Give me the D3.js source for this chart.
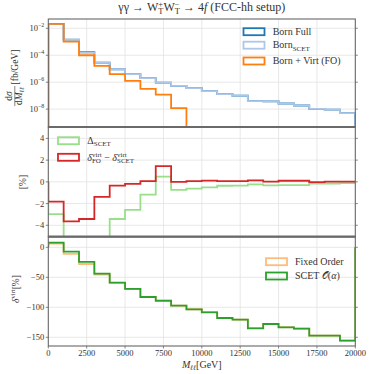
<!DOCTYPE html>
<html>
<head>
<meta charset="utf-8">
<script src="https://cdn.jsdelivr.net/npm/d3@7"></script>
<style>
  body { margin: 0; background: #fff; }
  svg { display: block; }
  text { font-family: "Liberation Serif", "DejaVu Serif", serif; fill: #333; white-space: pre; }
</style>
</head>
<body>
<svg></svg>
<script>
'use strict';

// bin edges [GeV]
var binEdges = [0, 1000, 2000, 3000, 4000, 5000, 6000, 7000, 8000, 9000, 10000,
  11000, 12000, 13000, 14000, 15000, 16000, 17000, 18000, 19000, 20000];
var xTickValues = [0, 2500, 5000, 7500, 10000, 12500, 15000, 17500, 20000];

// top panel: dsigma/dM [fb/GeV]
var bornFull = [2.1e-2, 1.45e-3, 1.66e-4, 2.8e-5, 9.1e-6, 3.9e-6, 2.0e-6, 9.3e-7, 5.4e-7, 3.6e-7,
  2.2e-7, 1.29e-7, 9.8e-8, 3.9e-8, 3.8e-8, 2.6e-8, 1.86e-8, 1.05e-8, 9.3e-9, 5.0e-9];
var bornScet = [2.1e-2, 1.38e-3, 1.58e-4, 2.8e-5, 9.1e-6, 3.9e-6, 2.0e-6, 9.3e-7, 5.4e-7, 3.6e-7,
  2.2e-7, 1.29e-7, 9.8e-8, 3.9e-8, 3.8e-8, 2.6e-8, 1.86e-8, 1.05e-8, 9.3e-9, 5.0e-9];
var bornVirtFO = [2.1e-2, 1.02e-3, 1.0e-4, 1.62e-5, 3.9e-6, 1.26e-6, 3.2e-7, 1.2e-7, 1.17e-8];

// middle panel [%]
var deltaScet = [-2.98, -8.1, -9.7, -6.2, -3.42, -2.58, -1.17, 0.49, -0.74, -0.62,
  -0.5, -0.36, -0.34, -0.24, -0.33, -0.3, -0.3, -0.15, -0.15, -0.12];
var deltaDiff = [-1.82, -3.63, -3.42, -1.38, -0.34, -0.18, 0.06, 1.45, 0.0, 0.06,
  0.12, 0.06, 0.06, 0.14, 0.02, 0.1, 0.1, -0.02, 0.02, 0.02];

// bottom panel: delta virt [%]
var virtFixedOrder = [6.0, -10.8, -27.8, -45.3, -59.2, -69.6, -82.7, -88.0, -97.2, -103.2,
  -108.1, -117.7, -120.5, -134.8, -127.8, -133.2, -135.5, -147.2, -147.2, -155.6];
var virtScet = [7.8, -7.2, -24.4, -43.9, -58.9, -69.4, -82.8, -89.4, -97.2, -103.3,
  -108.3, -117.8, -120.6, -135.0, -127.8, -133.3, -135.6, -147.2, -147.2, -155.6];

var topTicks = [1e-2, 1e-4, 1e-6, 1e-8];
var topTickExp = ['\u22122', '\u22124', '\u22126', '\u22128'];
var midTicks = [-4, -2, 0, 2, 4];
var botTicks = [-150, -100, -50, 0];

// layout
var W = 374, H = 374;
var left = 48.3, right = 355.3;
var panels = [
  { top: 19, bottom: 127 },
  { top: 127, bottom: 236.7 },
  { top: 236.7, bottom: 346 }
];
var lw = 1.8;

var svg = d3.select('svg').attr('width', W).attr('height', H);

var xScale = d3.scaleLinear().domain([0, 20000]).range([left, right]);
var yTop = d3.scaleLog().domain([4.7e-10, 4.9e-2]).range([panels[0].bottom, panels[0].top]).clamp(true);
var yMid = d3.scaleLinear().domain([-5.05, 5.05]).range([panels[1].bottom, panels[1].top]);
var yBot = d3.scaleLinear().domain([-164.5, 17.7]).range([panels[2].bottom, panels[2].top]);

// rich text: parts placed one after another, stacked scripts share a start
function rich(parent, parts, size) {
  var t = parent.append('text').style('font-size', size + 'px');
  var cx = 0, prevStart = 0;
  parts.forEach(function(p) {
    var fs = p.small ? size * 0.7 : size;
    var sx = p.stack ? prevStart : cx;
    var sp = t.append('tspan')
      .attr('x', sx)
      .attr('y', p.shift || 0)
      .style('font-size', fs + 'px')
      .style('font-style', p.it ? 'italic' : null)
      .text(p.t);
    var len = sp.node().getComputedTextLength();
    if (p.stack) {
      cx = Math.max(cx, sx + len);
    } else {
      prevStart = sx;
      cx = sx + len;
    }
  });
  return cx;
}

function richAt(x, y, parts, size, anchor, rotate) {
  var g = svg.append('g');
  var inner = g.append('g');
  var w = rich(inner, parts, size);
  var off = anchor === 'middle' ? -w / 2 : (anchor === 'end' ? -w : 0);
  inner.attr('transform', 'translate(' + off + ',0)');
  g.attr('transform', 'translate(' + x + ',' + y + ')' + (rotate ? ' rotate(-90)' : ''));
  return g;
}

// clip paths per panel
panels.forEach(function(p, i) {
  svg.append('clipPath').attr('id', 'clip' + i)
    .append('rect')
    .attr('x', left).attr('y', p.top)
    .attr('width', right - left).attr('height', p.bottom - p.top);
});

// grid
function grid(i, yScale, ticks) {
  var p = panels[i];
  var g = svg.append('g').attr('class', 'grid');
  g.selectAll('.gx').data(xTickValues.slice(1, -1)).enter().append('line')
    .attr('x1', xScale).attr('x2', xScale)
    .attr('y1', p.top).attr('y2', p.bottom);
  g.selectAll('.gy').data(ticks).enter().append('line')
    .attr('x1', left).attr('x2', right)
    .attr('y1', yScale).attr('y2', yScale);
  g.selectAll('line')
    .attr('stroke', '#e2e2e2')
    .attr('stroke-width', 0.8);
}
grid(0, yTop, topTicks);
grid(1, yMid, midTicks);
grid(2, yBot, botTicks);

// stairs like matplotlib, baseline at 0
function stairs(i, yScale, vals, base, color) {
  var pts = [[xScale(binEdges[0]), yScale(base)]];
  vals.forEach(function(v, k) {
    pts.push([xScale(binEdges[k]), yScale(v)]);
    pts.push([xScale(binEdges[k + 1]), yScale(v)]);
  });
  pts.push([xScale(binEdges[vals.length]), yScale(base)]);
  svg.append('path')
    .attr('clip-path', 'url(#clip' + i + ')')
    .attr('d', d3.line()(pts))
    .attr('fill', 'none')
    .attr('stroke', color)
    .attr('stroke-width', lw)
    .attr('stroke-linejoin', 'miter');
}

stairs(0, yTop, bornFull, 1e-30, '#1f77b4');
stairs(0, yTop, bornScet, 1e-30, '#aec7e8');
stairs(0, yTop, bornVirtFO, 1e-30, '#ff7f0e');

stairs(1, yMid, deltaScet, 0, '#98df8a');
stairs(1, yMid, deltaDiff, 0, '#d62728');

stairs(2, yBot, virtFixedOrder, 0, '#ffbb78');
stairs(2, yBot, virtScet, 0, '#2ca02c');

// frames
panels.forEach(function(p) {
  svg.append('rect')
    .attr('x', left).attr('y', p.top)
    .attr('width', right - left).attr('height', p.bottom - p.top)
    .attr('fill', 'none')
    .attr('stroke', '#666')
    .attr('stroke-width', 1.1);
});
[panels[1].top, panels[2].top].forEach(function(y) {
  svg.append('line')
    .attr('x1', left).attr('x2', right)
    .attr('y1', y).attr('y2', y)
    .attr('stroke', '#6a6a6a')
    .attr('stroke-width', 2.2);
});

// y ticks, marks on both sides
function yTicks(yScale, ticks, labelFn) {
  ticks.forEach(function(t, k) {
    var y = yScale(t);
    svg.append('line').attr('x1', left - 2.5).attr('x2', left).attr('y1', y).attr('y2', y)
      .attr('stroke', '#666').attr('stroke-width', 0.8);
    svg.append('line').attr('x1', right).attr('x2', right + 2.5).attr('y1', y).attr('y2', y)
      .attr('stroke', '#666').attr('stroke-width', 0.8);
    richAt(left - 4, y + 3, labelFn(t, k), 8.5, 'end');
  });
}
yTicks(yTop, topTicks, function(t, k) {
  return [{ t: '10' }, { t: topTickExp[k], small: true, shift: -4 }];
});
yTicks(yMid, midTicks, function(t) { return [{ t: d3.format('d')(t) }]; });
yTicks(yBot, botTicks, function(t) { return [{ t: d3.format('d')(t) }]; });

// x ticks
xTickValues.forEach(function(t) {
  var x = xScale(t);
  svg.append('line').attr('x1', x).attr('x2', x).attr('y1', panels[2].bottom).attr('y2', panels[2].bottom + 2.5)
    .attr('stroke', '#666').attr('stroke-width', 0.8);
  richAt(x, 355.5, [{ t: String(t) }], 8.5, 'middle');
});

// axis labels
richAt(201.8, 367.5, [{ t: 'M', it: true }, { t: '\u2113\u2113', it: true, small: true, shift: 2.5 }, { t: '[GeV]' }], 10, 'middle');

// top y label: fraction + unit
var fr = svg.append('g').attr('transform', 'translate(14.5,96) rotate(-90)');
var num = fr.append('g');
var wn = rich(num, [{ t: 'd' }, { t: '\u03c3', it: true }], 9.5);
num.attr('transform', 'translate(' + (-wn / 2) + ',-2.5)');
var den = fr.append('g');
var wd = rich(den, [{ t: 'd' }, { t: 'M', it: true }, { t: '\u2113\u2113', it: true, small: true, shift: 2.2 }], 9.5);
den.attr('transform', 'translate(' + (-wd / 2) + ',7.5)');
fr.append('line').attr('x1', -wd / 2 - 1).attr('x2', wd / 2 + 1).attr('y1', 0.3).attr('y2', 0.3)
  .attr('stroke', '#333').attr('stroke-width', 0.6);
var unit = fr.append('g').attr('transform', 'translate(' + (wd / 2 + 2.5) + ',3.3)');
rich(unit, [{ t: '[fb/GeV]' }], 9.5);

richAt(25.5, 182, [{ t: '[%]' }], 9.5, 'middle', true);
richAt(18.5, 289, [{ t: '\u03b4', it: true }, { t: 'virt', small: true, shift: -4 }, { t: '[%]' }], 9.5, 'middle', true);

// title
richAt(201.8, 11, [
  { t: '\u03b3\u03b3 \u2192 W' },
  { t: '+', small: true, shift: -4 }, { t: 'T', small: true, shift: 2.5, stack: true },
  { t: 'W' },
  { t: '\u2212', small: true, shift: -4 }, { t: 'T', small: true, shift: 2.5, stack: true },
  { t: ' \u2192 4' }, { t: 'f', it: true }, { t: ' (FCC-hh setup)' }
], 12, 'middle');

// legends
function legend(x, rows, labelX) {
  rows.forEach(function(r) {
    svg.append('rect')
      .attr('x', x).attr('y', r.y - 3.5)
      .attr('width', 21).attr('height', 7)
      .attr('fill', 'none')
      .attr('stroke', r.color)
      .attr('stroke-width', lw);
    richAt(labelX, r.y + 3.2, r.parts, 10);
  });
}

legend(243.5, [
  { y: 31.7, color: '#1f77b4', parts: [{ t: 'Born Full' }] },
  { y: 45.2, color: '#aec7e8', parts: [{ t: 'Born' }, { t: 'SCET', small: true, shift: 2.5 }] },
  { y: 61, color: '#ff7f0e', parts: [{ t: 'Born + Virt (FO)' }] }
], 272.7);

legend(58, [
  { y: 140.7, color: '#98df8a', parts: [{ t: '\u0394' }, { t: 'SCET', small: true, shift: 2.5 }] },
  { y: 157.3, color: '#d62728', parts: [
    { t: '\u03b4', it: true }, { t: 'virt', small: true, shift: -4 }, { t: 'FO', small: true, shift: 2.5, stack: true },
    { t: ' \u2212 ' },
    { t: '\u03b4', it: true }, { t: 'virt', small: true, shift: -4 }, { t: 'SCET', small: true, shift: 2.5, stack: true }
  ] }
], 87.3);

legend(266, [
  { y: 261.7, color: '#ffbb78', parts: [{ t: 'Fixed Order' }] },
  { y: 276, color: '#2ca02c', parts: [{ t: 'SCET ' }, { t: '\ud835\udcaa' }, { t: '(' }, { t: '\u03b1', it: true }, { t: ')' }] }
], 295);
</script>
</body>
</html>
